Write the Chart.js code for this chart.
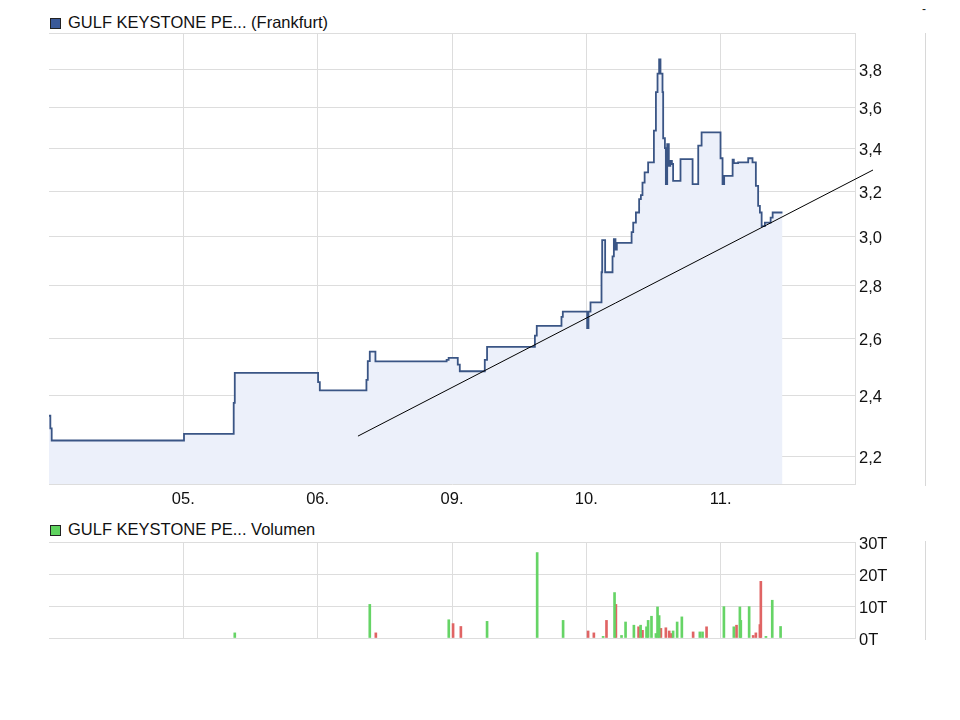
<!DOCTYPE html>
<html>
<head>
<meta charset="utf-8">
<script src="https://cdn.jsdelivr.net/npm/chart.js@4/dist/chart.umd.min.js"></script>
<style>
  body { margin: 0; background: #fff; font-family: "Liberation Sans", Arial, sans-serif; }
  #wrap { position: relative; width: 960px; height: 720px; }
  canvas { position: absolute; left: 0; }
  .head { position: absolute; left: 50px; font-size: 16.5px; color: #111; line-height: 18px; white-space: nowrap; }
  .head i { display: inline-block; width: 9px; height: 9px; border: 1px solid #222; margin-right: 7px; vertical-align: -1px; }
  .vline { position: absolute; left: 925px; width: 1px; background: #d8d8d8; }
</style>
</head>
<body>
<div id="wrap">
  <div class="head" style="top:13px"><i style="background:#3a5998"></i>GULF KEYSTONE PE... (Frankfurt)</div>
  <div class="head" style="top:520px"><i style="background:#5fd35f"></i>GULF KEYSTONE PE... Volumen</div>
  <div style="position:absolute;left:922px;top:2px;font-size:12px;color:#222">-</div>
  <div class="vline" style="top:33px;height:453px"></div>
  <div class="vline" style="top:541px;height:99px"></div>
  <canvas id="priceChart" width="960" height="510" style="top:0"></canvas>
  <canvas id="volChart" width="960" height="150" style="top:510px"></canvas>
</div>
<script>
// x values are in trading days (0 = 05., 1 = 06., 2 = 09., 3 = 10., 4 = 11.)
var dayTicks = [0, 1, 2, 3, 4]
var dayLabels = ['05.', '06.', '09.', '10.', '11.']
var priceTicks = [2.2, 2.4, 2.6, 2.8, 3.0, 3.2, 3.4, 3.6, 3.8]
var volTicks = [0, 10, 20, 30]

// price change points: at time priceX[i] the price becomes priceY[i]
var priceX = [-1.0, -0.99, -0.98, 0.005, 0.375, 0.383, 1.003, 1.016, 1.363, 1.373, 1.388, 1.43,
  1.96, 1.975, 2.043, 2.058, 2.244, 2.261, 2.617, 2.631, 2.815, 2.825, 3.006, 3.016, 3.031,
  3.113, 3.118, 3.14, 3.195, 3.205, 3.217, 3.227, 3.337, 3.349, 3.369, 3.393, 3.406, 3.418, 3.434,
  3.46, 3.503, 3.518, 3.53, 3.542, 3.552, 3.567, 3.572, 3.585, 3.592, 3.602, 3.614, 3.625,
  3.637, 3.646, 3.701, 3.791, 3.833, 3.858, 3.999, 4.014, 4.026, 4.089, 4.098, 4.13, 4.205,
  4.237, 4.262, 4.279, 4.292, 4.305, 4.329, 4.372, 4.387, 4.46]
var priceY = [2.331, 2.29, 2.251, 2.272, 2.374, 2.476, 2.444, 2.416, 2.452, 2.518, 2.552, 2.517,
  2.522, 2.529, 2.505, 2.482, 2.522, 2.569, 2.61, 2.646, 2.68, 2.7, 2.638, 2.7, 2.735,
  2.854, 2.986, 2.854, 2.919, 2.99, 2.947, 2.975, 3.02, 3.061, 3.105, 3.164, 3.182, 3.239, 3.286,
  3.333, 3.485, 3.68, 3.777, 3.854, 3.777, 3.68, 3.448, 3.4, 3.232, 3.42, 3.316, 3.34,
  3.325, 3.247, 3.348, 3.232, 3.412, 3.477, 3.352, 3.232, 3.27, 3.345, 3.329, 3.333, 3.352,
  3.333, 3.224, 3.134, 3.105, 3.046, 3.061, 3.083, 3.105, 3.105]

// trend line drawn on the chart (start / end)
var trendX = [1.30, 5.134]
var trendY = [2.265, 3.297]

// volume in thousands (T)
var volUpX = [0.383, 1.388, 1.976, 2.261, 2.634, 2.827, 3.125, 3.21, 3.262, 3.292, 3.354, 3.404,
  3.448, 3.46, 3.485, 3.518, 3.53, 3.542, 3.646, 3.676, 3.711, 3.845, 3.865, 4.024, 4.098,
  4.143, 4.15, 4.212, 4.337, 4.384, 4.446]
var volUpY = [1.6, 10.5, 5.7, 5.2, 26.7, 5.5, 0.5, 14.2, 0.8, 5.0, 4.0, 4.0,
  3.5, 5.5, 6.8, 1.4, 9.7, 7.0, 2.2, 5.0, 6.6, 1.9, 1.9, 9.8, 3.5,
  9.7, 5.5, 9.8, 0.5, 11.8, 3.6]
var volDownX = [1.433, 2.008, 2.066, 3.013, 3.056, 3.15, 3.22, 3.389, 3.418, 3.555, 3.592, 3.617,
  3.634, 3.795, 3.895, 4.118, 4.242, 4.262, 4.292, 4.299]
var volDownY = [1.6, 4.5, 3.6, 2.2, 1.6, 5.5, 10.5, 3.5, 2.4, 3.0, 3.2, 2.2,
  1.4, 1.9, 3.5, 4.0, 0.8, 1.6, 4.2, 17.7]

function pts(xs, ys) {
    return xs.map(function (x, i) { return { x: x, y: ys[i] } })
}

var gridColor = '#dddddd'
var tickFont = { family: '"Liberation Sans", Arial, sans-serif', size: 16.5 }

var topBorder = {
    id: 'topBorder',
    afterDraw: function (chart) {
        var a = chart.chartArea, ctx = chart.ctx
        ctx.save()
        ctx.strokeStyle = gridColor
        ctx.lineWidth = 1
        ctx.beginPath()
        ctx.moveTo(a.left, Math.round(a.top) + 0.5)
        ctx.lineTo(a.right, Math.round(a.top) + 0.5)
        ctx.stroke()
        ctx.restore()
    }
}

var xScale = function (showLabels, height) {
    return {
        type: 'linear',
        min: -1,
        max: 5,
        offset: false,
        afterBuildTicks: function (s) { s.ticks = dayTicks.map(function (v) { return { value: v } }) },
        afterFit: function (s) { s.height = height },
        grid: { color: gridColor, drawTicks: false, offset: false },
        border: { color: gridColor },
        ticks: {
            display: showLabels,
            autoSkip: false,
            maxRotation: 0,
            padding: 6,
            color: '#111',
            font: tickFont,
            callback: function (v) { return dayLabels[dayTicks.indexOf(v)] }
        }
    }
}

var config_Price = {
    type: 'line',
    data: {
        datasets: [
            {
                label: 'GULF KEYSTONE PE... (Frankfurt)',
                data: pts(priceX, priceY),
                stepped: 'before',
                borderColor: '#3a5585',
                borderWidth: 1.8,
                backgroundColor: 'rgba(236,240,250,1)',
                fill: 'start',
                pointRadius: 0,
                order: 2,
            },
            {
                label: 'Trend',
                data: pts(trendX, trendY),
                borderColor: '#000',
                borderWidth: 1,
                pointRadius: 0,
                fill: false,
                clip: false,
                order: 1,
            },
        ],
    },
    plugins: [topBorder],
    options: {
        responsive: false,
        animation: false,
        devicePixelRatio: 1,
        layout: { padding: { left: 49, top: 33, right: 0, bottom: 0 } },
        plugins: { legend: { display: false }, tooltip: { enabled: false } },
        scales: {
            x: xScale(true, 26),
            y: {
                type: 'logarithmic',
                position: 'right',
                min: 2.117,
                max: 4.0,
                afterBuildTicks: function (s) { s.ticks = priceTicks.map(function (v) { return { value: v } }) },
                afterFit: function (s) { s.width = 105 },
                grid: { color: gridColor, drawTicks: false },
                border: { color: gridColor },
                ticks: {
                    autoSkip: false,
                    padding: 4,
                    labelOffset: 2,
                    color: '#111',
                    font: tickFont,
                    callback: function (v) { return Number(v).toFixed(1).replace('.', ',') }
                }
            }
        }
    }
}
new Chart(document.getElementById('priceChart').getContext('2d'), config_Price)

var config_Volume = {
    type: 'bar',
    data: {
        datasets: [
            {
                label: 'Volumen +',
                data: pts(volUpX, volUpY),
                backgroundColor: '#66d466',
                barThickness: 2,
                grouped: false,
            },
            {
                label: 'Volumen -',
                data: pts(volDownX, volDownY),
                backgroundColor: '#e06464',
                barThickness: 2,
                grouped: false,
            },
        ],
    },
    plugins: [topBorder],
    options: {
        responsive: false,
        animation: false,
        devicePixelRatio: 1,
        layout: { padding: { left: 49, top: 32, right: 0, bottom: 0 } },
        plugins: { legend: { display: false }, tooltip: { enabled: false } },
        scales: {
            x: xScale(false, 22),
            y: {
                position: 'right',
                min: 0,
                max: 30,
                afterBuildTicks: function (s) { s.ticks = volTicks.map(function (v) { return { value: v } }) },
                afterFit: function (s) { s.width = 105 },
                grid: { color: gridColor, drawTicks: false },
                border: { color: gridColor },
                ticks: {
                    autoSkip: false,
                    padding: 4,
                    labelOffset: 2,
                    color: '#111',
                    font: tickFont,
                    callback: function (v) { return v + 'T' }
                }
            }
        }
    }
}
new Chart(document.getElementById('volChart').getContext('2d'), config_Volume)
</script>
</body>
</html>
